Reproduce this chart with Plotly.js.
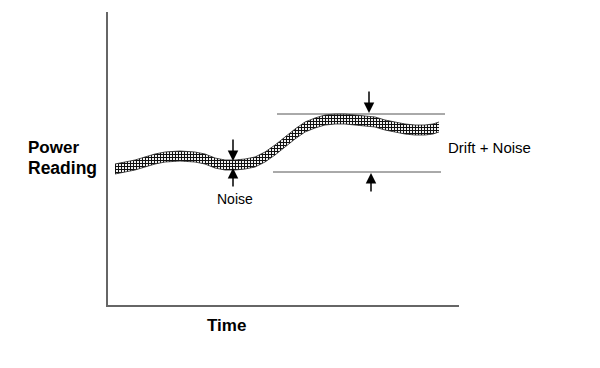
<!DOCTYPE html>
<html>
<head>
<meta charset="utf-8">
<script src="https://cdn.plot.ly/plotly-3.0.1.min.js"></script>
<style>html,body{margin:0;padding:0;background:#fff;}#chart{width:600px;height:368px;}</style>
</head>
<body>
<div id="chart"></div>
<script>
// Time positions of the measured signal
const timePts = [7, 17, 27, 37, 47, 57, 72, 87, 97, 107, 117, 127, 137, 147, 157, 167, 177, 187, 197, 207, 217, 227, 237, 247, 257, 267, 277, 287, 297, 307, 317, 325, 331];
// Lower and upper edges of the noisy power-reading band
const bandLower = [131, 133, 135, 138, 141, 143, 144, 143, 141, 137, 135, 135, 136, 138, 143, 150, 158, 166, 173, 177, 180, 181, 181, 180, 179, 178, 175, 173, 171, 170, 170, 171, 173];
const bandUpper = [141, 143, 145, 148, 151, 153, 154, 153, 151, 147, 145, 145, 146, 148, 153, 160, 168, 176, 183, 187, 190, 191, 191, 190, 189, 188, 185, 183, 181, 180, 180, 181, 183];
// Drift + noise envelope lines
const envTopX = [169, 337], envTopY = [191, 191];
const envBotX = [165, 333], envBotY = [133, 133];

const lineCol = '#555';
const data = [
  {x: timePts, y: bandLower, mode: 'lines', line: {color: '#222', width: 0.8}, hoverinfo: 'skip', showlegend: false},
  {x: timePts, y: bandUpper, mode: 'lines', line: {color: '#222', width: 0.8}, fill: 'tonexty',
   fillcolor: 'white',
   fillpattern: {shape: '+', size: 3, solidity: 0.6, fgcolor: '#111', bgcolor: 'white'},
   hoverinfo: 'skip', showlegend: false},
  {x: envTopX, y: envTopY, mode: 'lines', line: {color: lineCol, width: 1}, showlegend: false},
  {x: envBotX, y: envBotY, mode: 'lines', line: {color: lineCol, width: 1}, showlegend: false}
];

const arrowBase = {text: '', showarrow: true, arrowhead: 2, arrowsize: 1.4, arrowwidth: 1.5, arrowcolor: '#000', ax: 0, xref: 'x', yref: 'y', standoff: 0};
const layout = {
  width: 600, height: 368,
  margin: {l: 108, r: 141, t: 12, b: 63},
  paper_bgcolor: 'white', plot_bgcolor: 'white',
  showlegend: false,
  xaxis: {range: [0, 351], showline: true, linecolor: '#666', linewidth: 2, showgrid: false, zeroline: false,
          showticklabels: false, ticks: '', fixedrange: true},
  yaxis: {range: [0, 293], showline: true, linecolor: '#666', linewidth: 2, showgrid: false, zeroline: false,
          showticklabels: false, ticks: '', fixedrange: true},
  font: {family: 'Liberation Sans, Arial, sans-serif', color: '#000'},
  annotations: [
    Object.assign({}, arrowBase, {x: 125, y: 144, ay: -23}),
    Object.assign({}, arrowBase, {x: 125, y: 137, ay: 20}),
    Object.assign({}, arrowBase, {x: 261, y: 192, ay: -23}),
    Object.assign({}, arrowBase, {x: 263, y: 132, ay: 20}),
    {text: 'Noise', showarrow: false, font: {size: 14}},
    {text: 'Drift + Noise', showarrow: false, font: {size: 15}},
    {text: '<b>Power</b>', showarrow: false, font: {size: 17}},
    {text: '<b>Reading</b>', showarrow: false, font: {size: 17.5}},
    {text: '<b>Time</b>', showarrow: false, font: {size: 17}}
  ]
};
// place text annotations in pixel-derived paper coordinates
function px(xp) { return (xp - 108) / 351; }
function py(yp) { return (305 - yp) / 293; }
const T = layout.annotations;
Object.assign(T[4], {xref: 'paper', yref: 'paper', x: px(235), y: py(199), xanchor: 'center', yanchor: 'middle'});
Object.assign(T[5], {xref: 'paper', yref: 'paper', x: px(446), y: py(147), xanchor: 'left', yanchor: 'middle'});
Object.assign(T[6], {xref: 'paper', yref: 'paper', x: px(26), y: py(147), xanchor: 'left', yanchor: 'middle'});
Object.assign(T[7], {xref: 'paper', yref: 'paper', x: px(26), y: py(168), xanchor: 'left', yanchor: 'middle'});
Object.assign(T[8], {xref: 'paper', yref: 'paper', x: px(226), y: py(325), xanchor: 'center', yanchor: 'middle'});

Plotly.newPlot('chart', data, layout, {displayModeBar: false, staticPlot: true});
</script>
</body>
</html>
